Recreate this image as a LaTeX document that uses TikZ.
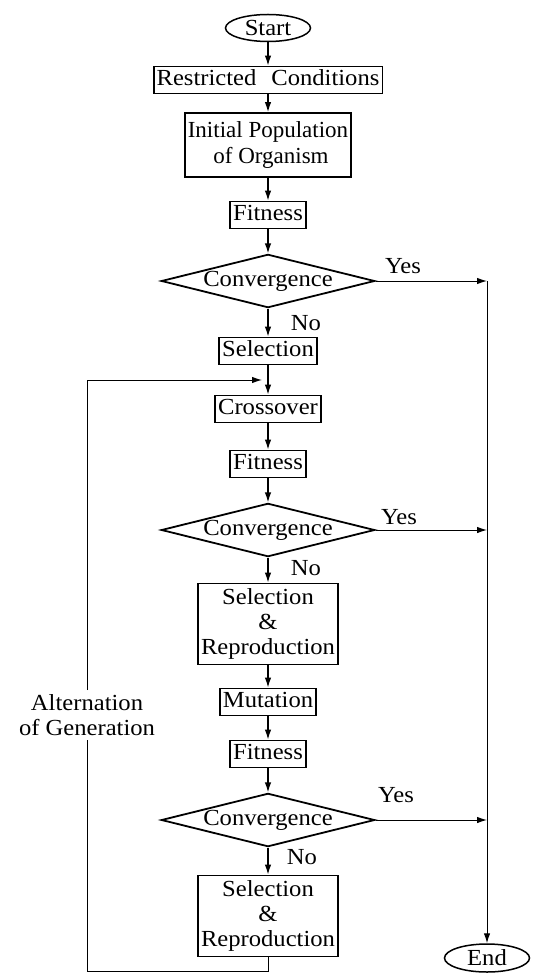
\documentclass[tikz,border=0pt]{standalone}
\usepackage{fontspec}
\setmainfont{Liberation Serif}[FakeStretch=1.07]
\newfontfamily\plainserif{Liberation Serif}
\usetikzlibrary{arrows.meta,shapes.geometric}
\begin{document}
\begin{tikzpicture}[x=1pt,y=-1pt,
  every node/.style={font=\fontsize{23}{25}\selectfont, inner sep=0pt},
  box/.style={draw, line width=1.8pt, inner xsep=3pt, inner ysep=3pt, text height=16pt, text depth=5pt},
  mbox/.style={draw, line width=1.8pt, inner xsep=3pt, inner ysep=3pt, align=center},
  dia/.style={draw, line width=1.8pt, shape=diamond, aspect=4, text height=16pt, text depth=5pt, minimum width=212pt, minimum height=52pt},
  term/.style={draw, line width=1.5pt, shape=ellipse, text height=15pt, text depth=0pt, minimum width=85pt, minimum height=27pt},
  lbl/.style={text height=16pt, text depth=5pt},
  arr/.style={-{Latex[length=10pt,width=6.5pt]}, line width=1.3pt},
  thin/.style={line width=1pt},
  thinarr/.style={-{Latex[length=10pt,width=6.5pt]}, line width=1pt}
]
\useasboundingbox (0,0) rectangle (536,973);

\node[term] (start) at (268,28) {Start};
\node[box] (rc) at (268,80) {Restricted\hspace{15pt}Conditions};
\node[mbox, minimum height=64pt, font=\fontsize{23}{26}\plainserif] (ip) at (268,145) {Initial Population\\\hspace{6pt}of Organism};
\node[box] (fit1) at (268,215) {Fitness};
\node[dia] (d1) at (268,281) {Convergence};
\node[box] (sel1) at (268,351) {Selection};
\node[box] (cross) at (268,409) {Crossover};
\node[box] (fit2) at (268,464) {Fitness};
\node[dia] (d2) at (268,530) {Convergence};
\node[mbox, minimum height=81pt] (sr1) at (268,624) {Selection\\\&\\Reproduction};
\node[box] (mut) at (268,702) {Mutation};
\node[box] (fit3) at (268,754) {Fitness};
\node[dia] (d3) at (268,820) {Convergence};
\node[mbox, minimum height=81pt] (sr2) at (268,916) {Selection\\\&\\Reproduction};
\node[term, minimum height=28pt] (end) at (487,958) {End};

\node[lbl] (yes1) at (403,268) {Yes};
\node[lbl] (yes2) at (399,519) {Yes};
\node[lbl] (yes3) at (396,797) {Yes};
\node[lbl] (no1) at (306,325) {No};
\node[lbl] (no2) at (306,570) {No};
\node[lbl] (no3) at (302,859) {No};

\node[align=center, inner sep=4pt] (alt) at (87,715) {Alternation\\of Generation};

\coordinate (r1) at (487,281);
\coordinate (r2) at (487,530);
\coordinate (r3) at (487,820);
\coordinate (fb) at (262,380);
\coordinate (bl) at (87,971);

\draw[arr] (start) -- (rc);
\draw[arr] (rc) -- (ip);
\draw[arr] (ip) -- (fit1);
\draw[arr] (fit1) -- (d1);
\draw[arr] (d1) -- (sel1);
\draw[arr] (sel1) -- (cross);
\draw[arr] (cross) -- (fit2);
\draw[arr] (fit2) -- (d2);
\draw[arr] (d2) -- (sr1);
\draw[arr] (sr1) -- (mut);
\draw[arr] (mut) -- (fit3);
\draw[arr] (fit3) -- (d3);
\draw[arr] (d3) -- (sr2);

\draw[thinarr] (d1.east) -- (r1);
\draw[thinarr] (d2.east) -- (r2);
\draw[thinarr] (d3.east) -- (r3);
\draw[thinarr] (r1) -- (end.north);

\draw[thin] (sr2.south) |- (bl) -- (alt.south);
\draw[thinarr] (alt.north) |- (fb);
\end{tikzpicture}
\end{document}
